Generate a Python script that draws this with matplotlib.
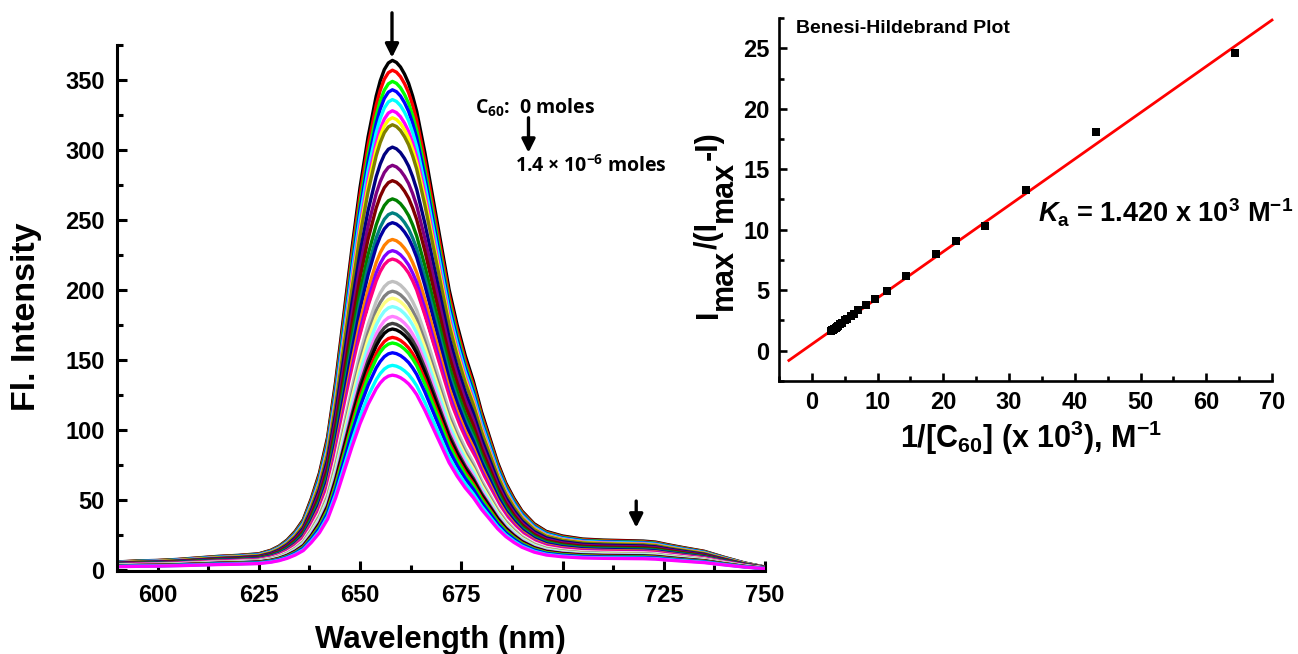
import matplotlib

matplotlib.use("Agg")
import matplotlib.pyplot as plt  # noqa: E402
from matplotlib.ticker import MultipleLocator  # noqa: E402

plt.rcParams["font.family"] = ["Liberation Sans", "DejaVu Sans"]
plt.rcParams["font.weight"] = "bold"
plt.rcParams["mathtext.fontset"] = "custom"
plt.rcParams["mathtext.rm"] = "Liberation Sans:bold"
plt.rcParams["mathtext.bf"] = "Liberation Sans:bold"
plt.rcParams["mathtext.it"] = "Liberation Sans:italic:bold"

# --- emission spectra (titration with C60) -------------------------------
wavelength = [590, 595, 600, 605, 610, 615, 620, 625, 628, 630, 632, 634,
              636, 638, 640, 642, 644, 646, 648, 650, 652, 653, 654, 655,
              656, 657, 658, 659, 660, 661, 662, 663, 664, 666, 668, 670,
              672, 674, 676, 678, 680, 682, 684, 686, 688, 690, 693, 696,
              700, 705, 710, 715, 720, 723, 726, 730, 735, 740, 745, 750]
# band shape, normalised to the 658 nm maximum
band_shape = [0.015, 0.017, 0.018, 0.020, 0.023, 0.026, 0.028, 0.031,
              0.038, 0.046, 0.058, 0.075, 0.098, 0.14, 0.19, 0.26, 0.37,
              0.50, 0.63, 0.75, 0.85, 0.89, 0.93, 0.96, 0.982, 0.995, 1.0,
              0.996, 0.987, 0.973, 0.955, 0.93, 0.90, 0.82, 0.73, 0.64,
              0.55, 0.48, 0.42, 0.37, 0.31, 0.26, 0.21, 0.17, 0.14, 0.115,
              0.09, 0.075, 0.066, 0.060, 0.058, 0.057, 0.056, 0.054, 0.049,
              0.043, 0.036, 0.024, 0.013, 0.005]
# peak intensity of each spectrum, 0 moles -> 1.4e-6 moles C60
peak_intensity = [364, 357, 349, 343, 336, 328, 323, 318, 302, 289, 278,
                  265, 255, 248, 236, 228, 222, 212, 206, 199, 194, 188,
                  181, 176, 172, 166, 162, 155, 146, 139]
# Origin default colour cycle
curve_colors = ["#000000", "#ff0000", "#00ff00", "#0000ff", "#00ffff",
                "#ff00ff", "#ffff00", "#808000", "#000080", "#800080",
                "#800000", "#008000", "#008080", "#0000a0", "#ff8000",
                "#8000ff", "#ff0080", "#ffffff", "#c0c0c0", "#808080",
                "#ffff80", "#80ffff", "#ff80ff", "#404040", "#000000",
                "#ff0000", "#00ff00", "#0000ff", "#00ffff", "#ff00ff"]

# --- Benesi-Hildebrand data ------------------------------------------------
bh_x = [64.4, 43.2, 32.6, 26.3, 21.9, 18.9, 14.3, 11.4, 9.6, 8.2, 7.0,
        6.4, 5.9, 5.4, 5.0, 4.6, 4.3, 4.0, 3.8, 3.6, 3.4, 3.2, 3.05, 2.9]
bh_y = [24.6, 18.06, 13.29, 10.31, 9.08, 7.97, 6.19, 4.92, 4.30, 3.75,
        3.33, 3.05, 2.85, 2.65, 2.50, 2.33, 2.20, 2.05, 1.97, 1.88, 1.80,
        1.73, 1.68, 1.62]
fit_x = [-3.5, 70.0]
fit_y = [-0.80, 27.33]

W, H = 1298, 654
fig = plt.figure(figsize=(W / 100, H / 100), dpi=100)


def px(x, y):
    return x / W, 1 - y / H


def style(ax, lw, major, minor, pad, size):
    for side in ("top", "right"):
        ax.spines[side].set_visible(False)
    for side in ("left", "bottom"):
        ax.spines[side].set_linewidth(lw)
    ax.tick_params(which="major", direction="in", length=major, width=lw,
                   labelsize=size, pad=pad)
    ax.tick_params(which="minor", direction="in", length=minor, width=lw)


# left: spectra
ax = fig.add_axes([117 / W, 1 - 571 / H, 648 / W, 526 / H])
style(ax, 2.2, 7, 4.5, 9, 17)
for peak, col in zip(peak_intensity, curve_colors):
    ax.plot(wavelength, [peak * s for s in band_shape], color=col, lw=2.4,
            solid_joinstyle="round")
ax.set_xlim(590, 750)
ax.set_ylim(-1, 375)
ax.xaxis.set_major_locator(MultipleLocator(25))
ax.xaxis.set_minor_locator(MultipleLocator(12.5))
ax.yaxis.set_major_locator(MultipleLocator(50))
ax.yaxis.set_minor_locator(MultipleLocator(25))

arrow = dict(arrowstyle="-|>", lw=2.4, color="black", mutation_scale=20,
             shrinkA=0, shrinkB=0)
ax.annotate("", xy=(657.9, 366), xytext=(657.9, 398), arrowprops=arrow,
            annotation_clip=False)
ax.annotate("", xy=(718.2, 30), xytext=(718.2, 49), arrowprops=arrow)
ax.annotate("", xy=(691.6, 298), xytext=(691.6, 323), arrowprops=arrow)

note = dict(family=["Open Sans", "DejaVu Sans"], fontweight="bold",
            fontsize=14, ha="left", va="baseline")
fig.text(*px(475, 113), r"C$_{\mathregular{60}}$:  0 moles", **note)
fig.text(*px(515, 172), r"1.4 × 10$^{\mathregular{-6}}$ moles", **note)

fig.text(*px(27, 317), "Fl. Intensity", rotation=90, ha="center",
         va="center", fontsize=24.5)
fig.text(*px(440, 648), "Wavelength (nm)", ha="center", va="baseline",
         fontsize=22.5)

# right: Benesi-Hildebrand plot
bx = fig.add_axes([779 / W, 1 - 381 / H, 493 / W, 363 / H])
style(bx, 1.9, 6, 3.5, 7, 17)
bx.plot(fit_x, fit_y, color="#ff0000", lw=2.0, clip_on=False, zorder=2)
bx.scatter(bh_x, bh_y, marker="s", s=26, color="black", linewidths=0,
           zorder=3)
bx.set_xlim(-5, 70)
bx.set_ylim(-2.5, 27.5)
bx.xaxis.set_major_locator(MultipleLocator(10))
bx.xaxis.set_minor_locator(MultipleLocator(5))
bx.yaxis.set_major_locator(MultipleLocator(5))
bx.yaxis.set_minor_locator(MultipleLocator(2.5))

fig.text(*px(796, 33), "Benesi-Hildebrand Plot", fontsize=14,
         ha="left", va="baseline")
fig.text(*px(1038, 223),
         r"$\mathit{K}_{\mathregular{a}}$ = 1.420 x 10$^{\mathregular{3}}$ "
         r"M$^{\mathregular{-1}}$", fontsize=19.5, ha="left", va="baseline")
fig.text(*px(1031, 448),
         r"1/[C$_{\mathregular{60}}$] (x 10$^{\mathregular{3}}$), "
         r"M$^{\mathregular{-1}}$", ha="center", va="baseline", fontsize=22)

# y label of the inset: full-size lowered "max", stacked bottom to top
renderer = fig.canvas.get_renderer()
y_pos = 318
for piece, drop in [("I", 0), ("max", 15), ("/(I", 0), ("max", 15),
                    ("-I)", 0)]:
    t = fig.text(*px(717 + drop, y_pos), piece, rotation=90,
                 rotation_mode="anchor", ha="left", va="baseline",
                 fontsize=22)
    y_pos -= t.get_window_extent(renderer).height

fig.savefig("out.png", dpi=100, facecolor="white")
